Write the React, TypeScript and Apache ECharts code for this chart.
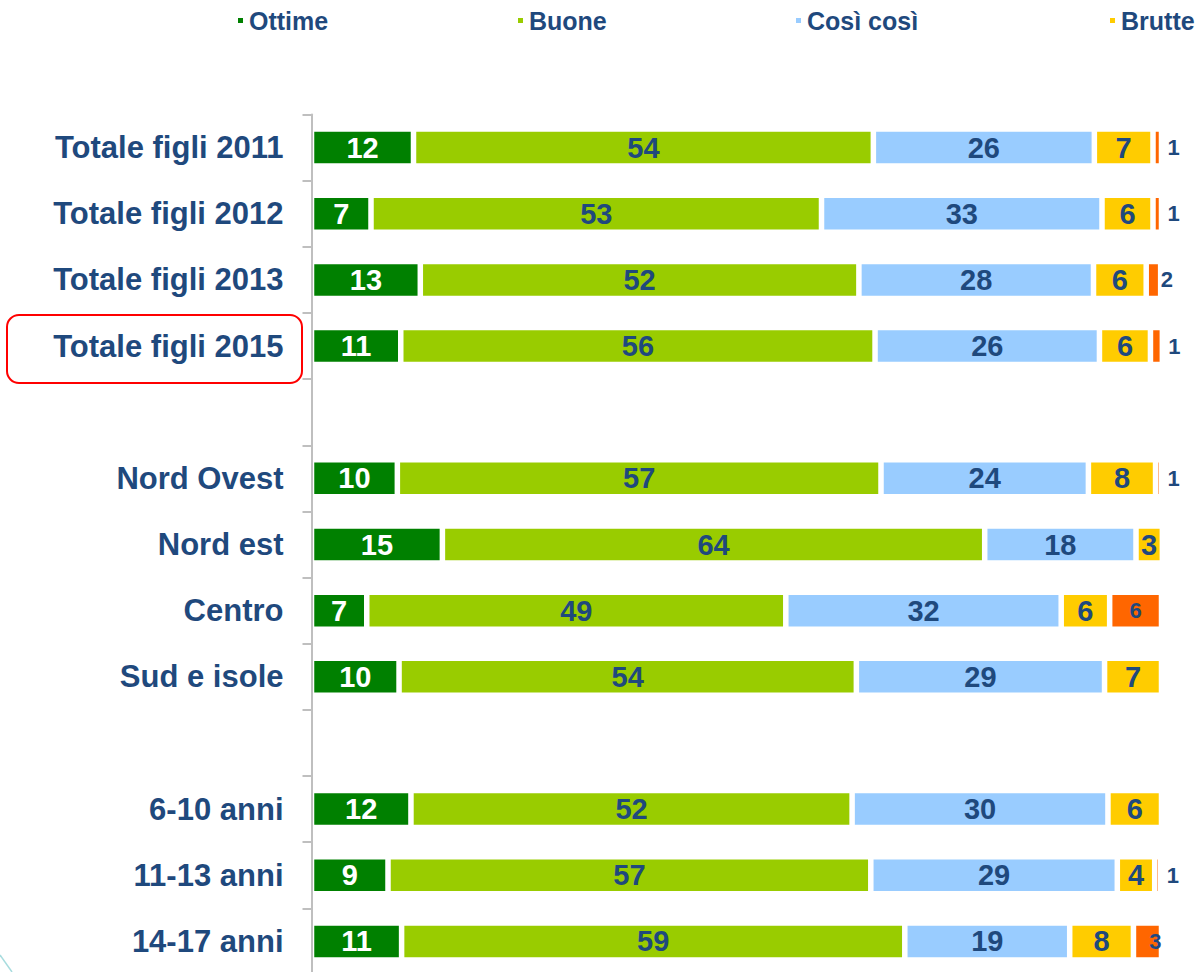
import React, { useEffect, useRef } from "react";
import * as echarts from "echarts";

const categories = [
  "Totale figli 2011",
  "Totale figli 2012",
  "Totale figli 2013",
  "Totale figli 2015",
  " ",
  "Nord Ovest",
  "Nord est",
  "Centro",
  "Sud e isole",
  "  ",
  "6-10 anni",
  "11-13 anni",
  "14-17 anni",
];

const seriesNames = ["Ottime", "Buone", "Così così", "Brutte", "Pessime"];

const ottime = [12.0, 7.0, 12.8, 10.5, null, 10.1, 15.4, 6.5, 10.3, null, 11.7, 9.0, 10.6];
const buone = [54.1, 53.0, 51.6, 55.8, null, 56.9, 63.8, 49.3, 53.8, null, 51.9, 56.8, 59.2];
const cosiCosi = [26.0, 33.0, 27.6, 26.4, null, 24.4, 17.8, 32.4, 29.2, null, 30.1, 29.0, 19.4];
const brutte = [6.9, 6.0, 6.2, 6.0, null, 7.9, 3.1, 5.7, 6.7, null, 6.3, 4.4, 7.5];
const pessime = [1.0, 1.0, 1.7, 1.4, null, 0.7, null, 6.1, null, null, null, 0.7, 3.3];

const colors = ["#008000", "#99CC00", "#99CCFF", "#FFCC00", "#FF6600"];
const TEXT = "#1F497D";
const FONT = "'Liberation Sans', Arial, sans-serif";

export default function App() {
  const ref = useRef<HTMLDivElement>(null);

  useEffect(() => {
    if (!ref.current) return;
    const chart = echarts.init(ref.current, undefined, { renderer: "svg" });

    const values = [ottime, buone, cosiCosi, brutte, pessime];
    const fmt = (p: any) => {
      const v = typeof p.value === "number" ? p.value : p.value?.value;
      return v == null ? "" : String(Math.round(v));
    };

    const pessimeData = pessime.map((v) => {
      if (v == null) return { value: null, label: { show: false } };
      if (v >= 5) return { value: v, label: { position: "inside", fontSize: 22 } };
      if (v >= 2.5) return { value: v, label: { position: "inside", offset: [8, 0], fontSize: 22 } };
      return { value: v, label: { position: "right", distance: v < 1.5 ? 6 : 0, fontSize: 22 } };
    });

    const series = seriesNames.map((name, i) => ({
      name,
      type: "bar",
      stack: "total",
      barWidth: 37,
      data: i === 4 ? pessimeData : values[i],
      itemStyle: { color: colors[i], borderColor: "#ffffff", borderWidth: 2.75 },
      label: {
        show: true,
        position: "inside",
        formatter: fmt,
        color: i === 0 ? "#ffffff" : TEXT,
        fontFamily: FONT,
        fontWeight: "bold",
        fontSize: 29,
      },
      emphasis: { disabled: true },
    }));

    const legendLefts = [236, 516, 794, 1108];

    chart.setOption({
      animation: false,
      backgroundColor: "#ffffff",
      legend: seriesNames.slice(0, 4).map((n, i) => ({
        data: [n],
        left: legendLefts[i],
        top: 8,
        padding: 0,
        itemWidth: 7,
        itemHeight: 7,
        icon: "rect",
        selectedMode: false,
        textStyle: { color: TEXT, fontFamily: FONT, fontWeight: "bold", fontSize: 25 },
      })),
      grid: {
        left: 311.5,
        top: 114.5,
        width: 850,
        height: 860,
        containLabel: false,
        outerBoundsMode: "none",
      },
      xAxis: {
        type: "value",
        min: 0,
        max: 100,
        show: false,
      },
      yAxis: {
        type: "category",
        inverse: true,
        data: categories,
        z: 10,
        axisLine: { show: true, lineStyle: { color: "#BFBFBF", width: 2 } },
        axisTick: { show: true, length: 9, lineStyle: { color: "#BFBFBF", width: 2 } },
        axisLabel: {
          margin: 28,
          color: TEXT,
          fontFamily: FONT,
          fontWeight: "bold",
          fontSize: 31,
        },
      },
      series,
      graphic: [
        {
          type: "rect",
          shape: { x: 7, y: 315, width: 295, height: 68, r: 12 },
          style: { fill: "none", stroke: "#FF0000", lineWidth: 2 },
          z: 20,
        },
        {
          type: "line",
          shape: { x1: 0, y1: 955, x2: 12, y2: 972 },
          style: { stroke: "#A8DCDE", lineWidth: 1.5 },
          z: 20,
        },
      ],
    });

    return () => chart.dispose();
  }, []);

  return (
    <div
      ref={ref}
      style={{ position: "absolute", left: 0, top: 0, width: 1197, height: 972 }}
    />
  );
}
